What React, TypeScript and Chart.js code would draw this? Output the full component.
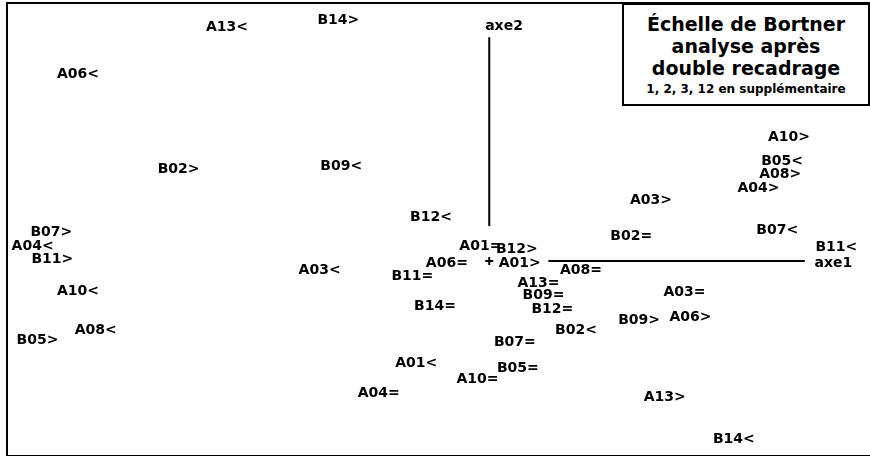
import React, { useEffect, useRef } from "react";
import { Chart, registerables } from "chart.js";

Chart.register(...registerables);

// Modalities of A items: label, axis 1 coordinate, axis 2 coordinate
const aLabels = ["A01=", "A01>", "A01<", "A03>", "A03<", "A03=", "A04>", "A04<", "A04=", "A06>", "A06<", "A06=", "A08>", "A08<", "A08=", "A10>", "A10<", "A10=", "A13>", "A13<", "A13="];
const aAxis1 = [-0.09, 0.31, -0.74, 1.64, -1.72, 1.98, 2.73, -4.63, -1.12, 2.04, -4.17, -0.43, 2.95, -3.99, 0.93, 3.04, -4.17, -0.12, 1.78, -2.66, 0.5];
const aAxis2 = [0.15, -0.02, -1.05, 0.62, -0.1, -0.32, 0.75, 0.15, -1.36, -0.58, 1.92, -0.02, 0.89, -0.71, -0.1, 1.27, -0.31, -1.21, -1.4, 2.4, -0.23];

// Modalities of B items
const bLabels = ["B02>", "B02<", "B02=", "B05>", "B05<", "B05=", "B07>", "B07<", "B07=", "B09>", "B09<", "B09=", "B11>", "B11<", "B11=", "B12>", "B12<", "B12=", "B14>", "B14<", "B14="];
const bAxis1 = [-3.15, 0.88, 1.44, -4.58, 2.97, 0.29, -4.44, 2.92, 0.26, 1.52, -1.5, 0.55, -4.43, 3.52, -0.78, 0.28, -0.59, 0.64, -1.53, 2.48, -0.55];
const bAxis2 = [0.94, -0.71, 0.25, -0.81, 1.02, -1.1, 0.3, 0.32, -0.83, -0.61, 0.97, -0.35, 0.02, 0.14, -0.16, 0.12, 0.45, -0.5, 2.47, -1.83, -0.46];

// Drawn axes (segments) and their names
const axe1Segment = [{ x: 0.6, y: 0 }, { x: 3.2, y: 0 }];
const axe2Segment = [{ x: 0, y: 2.3 }, { x: 0, y: 0.36 }];
const axisNames = ["axe1", "axe2"];
const axisNameX = [3.49, 0.15];
const axisNameY = [-0.02, 2.41];

const xRange = [-4.9, 3.8];
const yRange = [-1.94, 2.62];

const titleLines = ["Échelle de Bortner", "analyse après", "double recadrage"];
const subtitle = "1, 2, 3, 12 en supplémentaire";

const LABEL_FONT = "bold 14px 'DejaVu Sans', sans-serif";

const labelPlugin = {
  id: "pointLabels",
  afterDatasetsDraw(chart: any) {
    const ctx = chart.ctx;
    ctx.save();
    ctx.fillStyle = "#000";
    ctx.textAlign = "center";
    ctx.textBaseline = "middle";
    chart.data.datasets.forEach((ds: any, i: number) => {
      if (!ds.pointLabels) return;
      const meta = chart.getDatasetMeta(i);
      ctx.font = ds.labelFont || LABEL_FONT;
      meta.data.forEach((el: any, j: number) => {
        ctx.fillText(ds.pointLabels[j], el.x, el.y);
      });
    });
    ctx.restore();
  },
};

export default function App() {
  const canvasRef = useRef<HTMLCanvasElement | null>(null);

  useEffect(() => {
    if (!canvasRef.current) return;
    const mk = (xs: number[], ys: number[]) => xs.map((x, i) => ({ x, y: ys[i] }));
    const chart = new Chart(canvasRef.current, {
      type: "scatter",
      data: {
        datasets: [
          {
            data: axe1Segment,
            showLine: true,
            borderColor: "#000",
            borderWidth: 2,
            pointRadius: 0,
          } as any,
          {
            data: axe2Segment,
            showLine: true,
            borderColor: "#000",
            borderWidth: 2,
            pointRadius: 0,
          } as any,
          {
            data: [{ x: 0, y: 0 }],
            pointStyle: "cross",
            pointRadius: 4,
            borderColor: "#000",
            borderWidth: 2,
          } as any,
          { data: mk(aAxis1, aAxis2), pointRadius: 0, pointLabels: aLabels } as any,
          { data: mk(bAxis1, bAxis2), pointRadius: 0, pointLabels: bLabels } as any,
          { data: mk(axisNameX, axisNameY), pointRadius: 0, pointLabels: axisNames } as any,
        ],
      },
      options: {
        animation: false,
        responsive: true,
        maintainAspectRatio: false,
        layout: { padding: 0 },
        plugins: { legend: { display: false }, tooltip: { enabled: false }, title: { display: false } },
        scales: {
          x: { type: "linear", min: xRange[0], max: xRange[1], display: false },
          y: { type: "linear", min: yRange[0], max: yRange[1], display: false },
        },
      },
      plugins: [labelPlugin],
    });
    return () => chart.destroy();
  }, []);

  return (
    <div style={{ position: "absolute", left: 0, top: 0, width: 870, height: 456, background: "#fff", overflow: "hidden" }}>
      <canvas ref={canvasRef} />
      <div
        style={{
          position: "absolute",
          left: 6,
          top: 2,
          width: 880,
          height: 451,
          borderLeft: "2px solid #000",
          borderTop: "2px solid #000",
          borderBottom: "2px solid #000",
          pointerEvents: "none",
        }}
      />
      <div
        style={{
          position: "absolute",
          left: 622,
          top: 3,
          width: 244,
          height: 99,
          border: "2px solid #000",
          background: "#fff",
          fontFamily: "'DejaVu Sans', sans-serif",
          color: "#000",
          textAlign: "center",
        }}
      >
        <div style={{ paddingTop: 8 }}>
          {titleLines.map((t) => (
            <div key={t} style={{ fontWeight: "bold", fontSize: 19, lineHeight: "22px" }}>
              {t}
            </div>
          ))}
          <div style={{ fontWeight: "bold", fontSize: 12, lineHeight: "20px" }}>{subtitle}</div>
        </div>
      </div>
    </div>
  );
}
